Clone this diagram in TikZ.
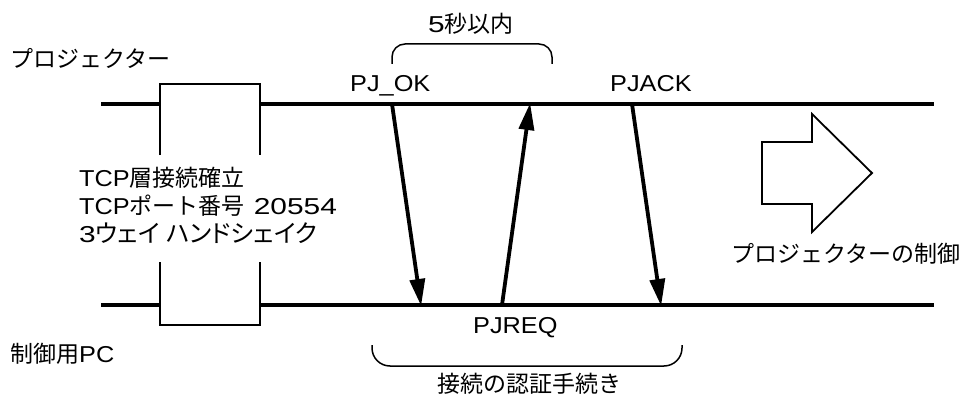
\documentclass[tikz,border=0pt]{standalone}
\usepackage{fontspec}
\setmainfont{Liberation Sans}[FakeStretch=1.1]
\newfontfamily\wide{Liberation Sans}[FakeStretch=1.3]
\newfontfamily\jp{Noto Sans CJK JP}
\newfontfamily\jpp{Noto Sans CJK JP}[RawFeature=+palt]
\usetikzlibrary{arrows.meta}
\tikzset{
  lbl/.style={anchor=base west, inner sep=0pt, font=\fontsize{23}{28}\selectfont},
  timeline/.style={line width=3.6pt, line cap=butt},
  thin/.style={line width=1.8pt, line join=miter},
  brace/.style={line width=1.5pt, rounded corners=13pt},
  msg/.style={line width=3.8pt, -{Triangle[length=27pt,width=15pt]}, shorten >=-1pt}
}
\begin{document}
\begin{tikzpicture}[x=1pt,y=-1pt]
\useasboundingbox (0,0) rectangle (959,396);
% coordinates
\coordinate (tL) at (101,104); \coordinate (tA) at (160,104);
\coordinate (tB) at (260,104); \coordinate (tR) at (934,104);
\coordinate (bL) at (101,305); \coordinate (bA) at (160,305);
\coordinate (bB) at (260,305); \coordinate (bR) at (934,305);
% timelines
\draw[timeline] (tL) -- (tA);
\draw[timeline] (tB) -- (tR);
\draw[timeline] (bL) -- (bA);
\draw[timeline] (bB) -- (bR);
% box
\draw[thin] (160,155) -- (160,84) -- (260,84) -- (260,155);
\draw[thin] (160,262) -- (160,325) -- (260,325) -- (260,262);
% labels
\node[lbl] (proj) at (10,68) {{\jp プロジェクター}};
\node[lbl] (pc) at (10,362) {{\jp 制御用}PC};
\node[lbl] (tcp1) at (79,186) {TCP{\jp 層接続確立}};
\node[lbl] (tcp2) at (79,214) {TCP{\jp ポート番号}\hspace{9pt}{\wide 20554}};
\node[lbl] (tcp3) at (79,242) {{\wide 3}{\jpp\fontsize{24.5}{28}\selectfont ウェイ\hspace{7pt}ハンドシェイク}};
\node[lbl] (pjok) at (350,92) {PJ\_OK};
\node[lbl] (pjack) at (610,92) {PJACK};
\node[lbl] (pjreq) at (473,333) {PJREQ};
\node[lbl] (five) at (428,33) {{\wide 5}{\jp 秒以内}};
\node[lbl] (ctrl) at (731,262) {{\jp プロジェクターの制御}};
\node[lbl] (auth) at (437,392) {{\jp 接続の認証手続き}};
% braces
\draw[brace] (392,64) |- (552,44) -- (552,64);
\draw[brace, rounded corners=18pt] (372,345) |- (682,366) -- (682,345);
% messages
\coordinate (m1s) at (392,104); \coordinate (m1e) at (421,305);
\coordinate (m2s) at (502,305); \coordinate (m2e) at (530,104);
\coordinate (m3s) at (632,104); \coordinate (m3e) at (661,305);
\draw[msg] (m1s) -- (m1e);
\draw[msg] (m2s) -- (m2e);
\draw[msg] (m3s) -- (m3e);
% big arrow
\draw[thin] (762,142) -- (812,142) -- (812,114) -- (872,173) -- (812,232) -- (812,204) -- (762,204) -- cycle;
\end{tikzpicture}
\end{document}
